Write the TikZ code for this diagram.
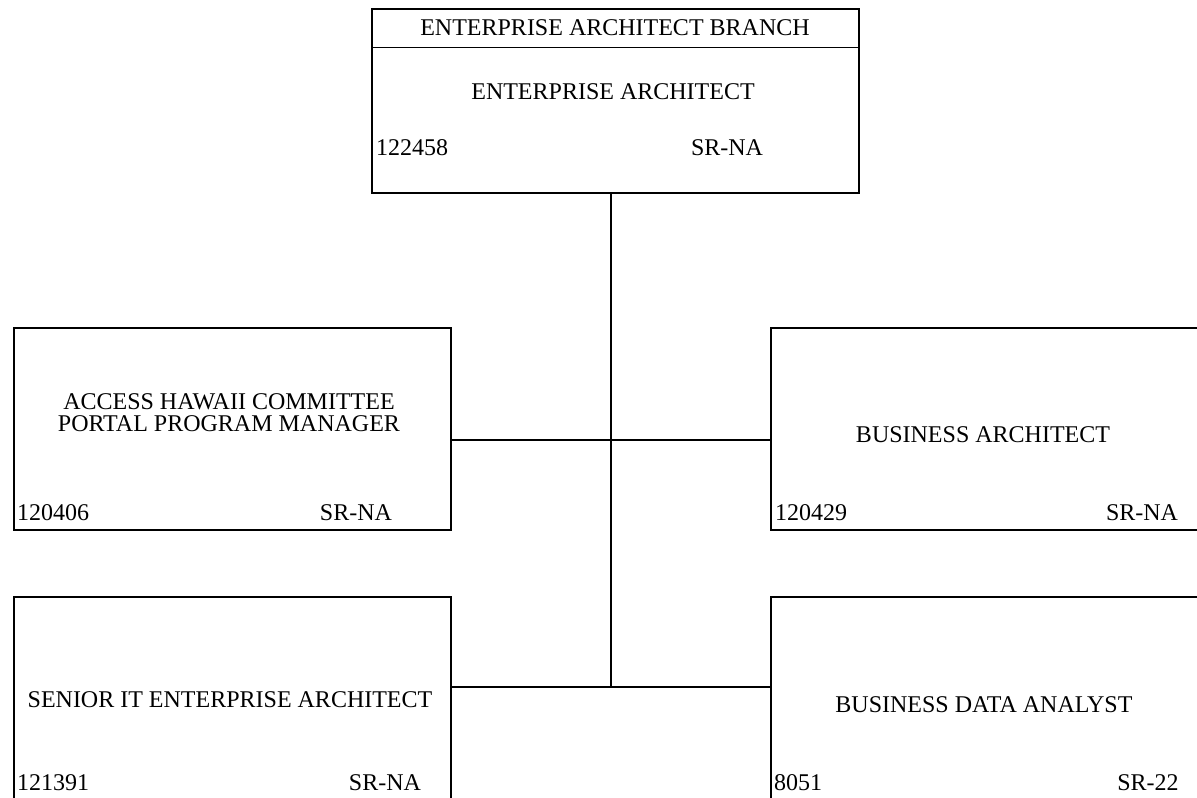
\documentclass[tikz,border=0pt]{standalone}
\usepackage{fontspec}
\setmainfont{Liberation Serif}
\begin{document}
\begin{tikzpicture}[x=1pt,y=-1pt,
  box/.style={draw,line width=1.3pt,inner sep=0pt},
  txt/.style={inner sep=0pt,font=\fontsize{24}{22}\selectfont,align=center},
  conn/.style={line width=1.3pt}]
\useasboundingbox (0,0) rectangle (1197,798);
\clip (0,0) rectangle (1197,798);
% boxes
\node[box,minimum width=487pt,minimum height=184pt] (top) at (615.5,101) {};
\node[box,minimum width=437pt,minimum height=202pt] (ml) at (232.5,429) {};
\node[box,minimum width=444pt,minimum height=202pt] (mr) at (993,429) {};
\node[box,minimum width=437pt,minimum height=233pt] (bl) at (232.5,713.5) {};
\node[box,minimum width=444pt,minimum height=233pt] (br) at (993,713.5) {};
\coordinate (hdr) at (0,47.5);
\draw[conn] (top.west |- hdr) -- (top.east |- hdr);
% texts
\node[txt] (t1) at (615,28) {ENTERPRISE ARCHITECT BRANCH};
\node[txt] (t2) at (613,92) {ENTERPRISE ARCHITECT};
\node[txt,anchor=west] (t3) at (376,148) {122458};
\node[txt] (t4) at (727,148) {SR-NA};
\node[txt] (m1) at (229,413) {ACCESS HAWAII COMMITTEE\\PORTAL PROGRAM MANAGER};
\node[txt,anchor=west] (m2) at (17,513) {120406};
\node[txt] (m3) at (356,513) {SR-NA};
\node[txt] (r1) at (983,435) {BUSINESS ARCHITECT};
\node[txt,anchor=west] (r2) at (775,513) {120429};
\node[txt] (r3) at (1142,513) {SR-NA};
\node[txt] (b1) at (230,700) {SENIOR IT ENTERPRISE ARCHITECT};
\node[txt,anchor=west] (b2) at (17,783) {121391};
\node[txt] (b3) at (385,783) {SR-NA};
\node[txt] (c1) at (984,705) {BUSINESS DATA ANALYST};
\node[txt,anchor=west] (c2) at (774,783) {8051};
\node[txt] (c3) at (1148,783) {SR-22};
% connectors
\coordinate (j1) at (611,440);
\coordinate (j2) at (611,687);
\draw[conn] (top.south -| j1) -- (j2);
\draw[conn] (ml.east |- j1) -- (mr.west |- j1);
\draw[conn] (bl.east |- j2) -- (br.west |- j2);
\end{tikzpicture}
\end{document}
